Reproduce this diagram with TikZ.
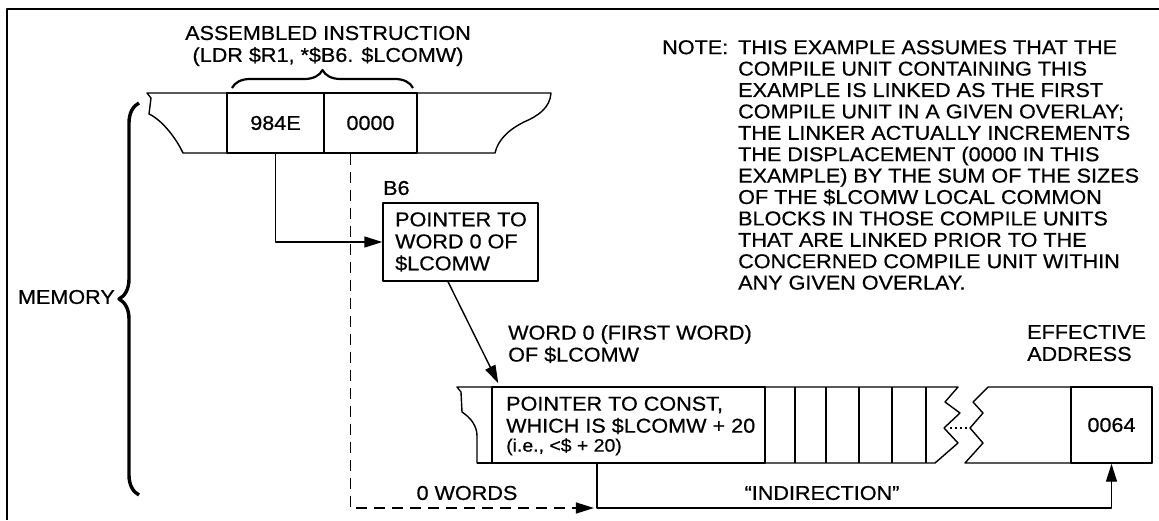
\documentclass[tikz,border=0pt]{standalone}
\usepackage{fontspec}
\setmainfont{Liberation Sans}[FakeStretch=1.08,FakeBold=0.6]
\usetikzlibrary{arrows.meta,decorations.pathreplacing,calc}
\begin{document}
\begin{tikzpicture}[x=1pt,y=-1pt,line join=round,
  every node/.style={font=\fontsize{20}{22}\selectfont},
  ln/.style={line width=1.4pt},
  cellbox/.style={draw,line width=1.4pt,inner sep=0pt,minimum width=#1},
  arr/.style={line width=1.4pt,-{Triangle[length=18pt,width=11pt]}},
  dsh/.style={line width=1.4pt,dash pattern=on 11pt off 7pt},
  lbl/.style={inner sep=0pt,align=left},
  bracestyle/.style={decorate,decoration={brace,amplitude=#1}}
]
\useasboundingbox (0,0) rectangle (1159,520);
% frame
\draw[line width=1.3pt] (7,520) -- (7,9) -- (1159,9);

% ---- top memory strip
\draw[ln] (147,93) -- (551,93)
  .. controls (550,108) and (538,116) .. (524,122)
  .. controls (508,130) and (498,140) .. (495,153)
  -- (183,153)
  .. controls (176,138) and (162,120) .. (149,114)
  -- (151,98) -- cycle;
\node[cellbox=97pt,minimum height=60pt] (cell984) at (275.5,123) {984E};
\node[cellbox=93pt,minimum height=60pt] (cell0000) at (370.5,123) {0000};

% brace and label above
\draw[bracestyle=18pt,line width=2.2pt] (232,88) -- (413,88);
\node[align=center,inner sep=0pt] (asm) at (328,46) {ASSEMBLED INSTRUCTION\\(LDR \$R1, *\$B6. \$LCOMW)};

% ---- MEMORY brace
\draw[bracestyle=20pt,line width=3.4pt] (139,495) -- (139,103);
\node[inner sep=0pt,anchor=east] (mem) at (115,297) {MEMORY};

% ---- B6 box
\node[inner sep=0pt,anchor=west] (b6lbl) at (383,188) {B6};
\node[draw,line width=1.4pt,minimum width=155pt,minimum height=78pt,inner sep=0pt] (b6box) at (460.5,242) {};
\node[lbl,anchor=west] (b6txt) at (395,242) {POINTER TO\\WORD 0 OF\\\$LCOMW};

% ---- bottom strip
\draw[ln] (958,387) -- (457,387) -- (461,392) -- (462,412)
  .. controls (471,418) and (477,426) .. (477,436)
  -- (477,463) -- (935,463)
  -- (958,443) -- (944,428) -- (960,413) -- (945,402) -- cycle;
\draw[ln] (988,387) -- (1152,387) -- (1152,463) -- (965,463)
  -- (983,443) -- (970,428) -- (983,413) -- (973,402) -- cycle;
\draw[line width=1.6pt,dash pattern=on 2pt off 3pt] (950,428) -- (970,428);
\foreach \xx in {795,826,859,892,926} \draw[ln] (\xx,387) -- (\xx,463);
\node[cellbox=273pt,minimum height=76pt] (lcomw) at (628.5,425) {};
\node[lbl,anchor=west] (lcomwtxt) at (506,426)
  {POINTER TO CONST,\\WHICH IS \$LCOMW + 20\\[-3pt]{\fontsize{18}{20}\selectfont (i.e., <\$ + 20)}};
\draw[ln] (477,463) -- (492,463) -- (492,387);
\node[cellbox=81pt,minimum height=76pt] (cell0064) at (1111.5,425) {0064};

\node[lbl,anchor=west] (w0lbl) at (508,344) {WORD 0 (FIRST WORD)\\OF \$LCOMW};
\node[lbl,anchor=west] (ealbl) at (1027,343) {EFFECTIVE\\ADDRESS};
\node[inner sep=0pt] (zw) at (467,493) {0 WORDS};
\node[inner sep=0pt] (ind) at (822,493) {“INDIRECTION”};

% ---- connectors
\coordinate (indstart) at ($(lcomw.south west)!0.385!(lcomw.south east)$);
\coordinate (indcorner) at (indstart |- 0,508);
\coordinate (dstart) at ($(cell0000.south west)!0.29!(cell0000.south east)$);

\draw[arr] (cell984.south) |- (b6box.west);
\draw[arr] ($(b6box.south west)!0.42!(b6box.south east)$) -- ($(lcomw.north west)+(7,-3)$);
\draw[dsh,-{Triangle[length=18pt,width=11pt]},shorten >=3pt] (dstart) |- (indcorner);
\draw[arr] (indstart) -- (indcorner) -| (cell0064.south);

% ---- note
\node[inner sep=0pt,anchor=north west] (notehd) at (662,40) {NOTE:};
\node[lbl,anchor=north west,font=\fontsize{20}{21.4}\selectfont] (note) at (738,40)
 {THIS EXAMPLE ASSUMES THAT THE\\
  COMPILE UNIT CONTAINING THIS\\
  EXAMPLE IS LINKED AS THE FIRST\\
  COMPILE UNIT IN A GIVEN OVERLAY;\\
  THE LINKER ACTUALLY INCREMENTS\\
  THE DISPLACEMENT (0000 IN THIS\\
  EXAMPLE) BY THE SUM OF THE SIZES\\
  OF THE \$LCOMW LOCAL COMMON\\
  BLOCKS IN THOSE COMPILE UNITS\\
  THAT ARE LINKED PRIOR TO THE\\
  CONCERNED COMPILE UNIT WITHIN\\
  ANY GIVEN OVERLAY.};
\end{tikzpicture}
\end{document}
